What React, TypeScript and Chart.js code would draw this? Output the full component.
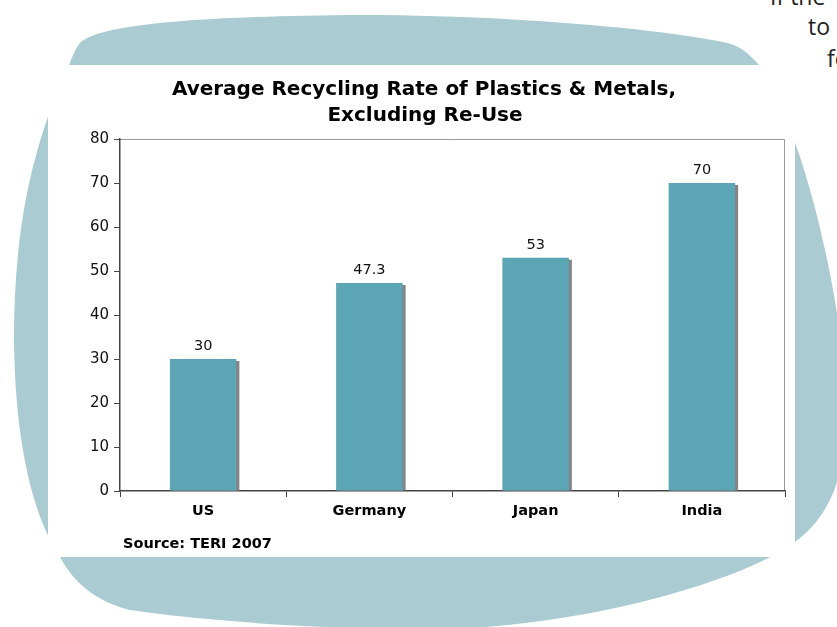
import React, { useEffect, useRef } from "react";
import { Chart, registerables } from "chart.js";

Chart.register(...registerables);

const categories: string[] = ["US", "Germany", "Japan", "India"];
const recyclingRate: number[] = [30, 47.3, 53, 70];
const valueLabels: string[] = ["30", "47.3", "53", "70"];
const titleLines: string[] = ["Average Recycling Rate of Plastics & Metals,", "Excluding Re-Use"];
const sourceText = "Source: TERI 2007";
const slideTextFragments: string[] = ["If the", "to", "fo"];

const FONT = "'DejaVu Sans', Verdana, sans-serif";
const BAR_COLOR = "#5ca5b4";
const BLOB_COLOR = "#aacbd2";

const decorPlugin = {
  id: "decor",
  beforeDraw(chart: any) {
    const { ctx, chartArea } = chart;
    ctx.save();
    ctx.strokeStyle = "#9a9a9a";
    ctx.lineWidth = 1;
    ctx.beginPath();
    ctx.moveTo(chartArea.left, chartArea.top + 0.5);
    ctx.lineTo(chartArea.right - 0.5, chartArea.top + 0.5);
    ctx.lineTo(chartArea.right - 0.5, chartArea.bottom);
    ctx.stroke();
    ctx.restore();
  },
  beforeDatasetsDraw(chart: any) {
    const { ctx } = chart;
    ctx.save();
    ctx.shadowColor = "rgba(110,110,110,0.85)";
    ctx.shadowOffsetX = 3;
    ctx.shadowOffsetY = 2;
    ctx.shadowBlur = 0;
  },
  afterDatasetsDraw(chart: any) {
    const { ctx } = chart;
    ctx.restore();
    const meta = chart.getDatasetMeta(0);
    ctx.save();
    ctx.fillStyle = "#111";
    ctx.font = `14.5px ${FONT}`;
    ctx.textAlign = "center";
    ctx.textBaseline = "alphabetic";
    meta.data.forEach((bar: any, i: number) => {
      ctx.fillText(valueLabels[i], bar.x, bar.y - 9);
    });
    ctx.restore();
  },
  afterDraw(chart: any) {
    const { ctx } = chart;
    ctx.save();
    ctx.fillStyle = "#000";
    ctx.textAlign = "center";
    ctx.textBaseline = "alphabetic";
    ctx.font = `bold 20px ${FONT}`;
    ctx.fillText(titleLines[0], 424, 95);
    ctx.fillText(titleLines[1], 425, 121);
    ctx.textAlign = "left";
    ctx.font = `bold 14.5px ${FONT}`;
    ctx.fillText(sourceText, 123, 548);
    ctx.restore();
  },
};

export default function App() {
  const canvasRef = useRef<HTMLCanvasElement | null>(null);

  useEffect(() => {
    if (!canvasRef.current) return;
    const chart = new Chart(canvasRef.current, {
      type: "bar",
      data: {
        labels: categories,
        datasets: [
          {
            data: recyclingRate,
            backgroundColor: BAR_COLOR,
            borderWidth: 0,
            barPercentage: 0.4,
            categoryPercentage: 1,
          },
        ],
      },
      options: {
        responsive: false,
        animation: false,
        devicePixelRatio: 1,
        layout: { padding: { left: 60, right: 52, top: 139, bottom: 96 } },
        plugins: {
          legend: { display: false },
          title: { display: false },
          tooltip: { enabled: false },
        },
        scales: {
          x: {
            afterFit: (s: any) => {
              s.height = 40;
            },
            grid: {
              offset: true,
              drawOnChartArea: false,
              drawTicks: true,
              tickLength: 6,
              color: "#444",
            },
            border: { display: true, color: "#444", width: 1.5 },
            ticks: {
              color: "#000",
              font: { family: FONT, size: 14.5, weight: "bold" },
              padding: 6,
            },
          },
          y: {
            min: 0,
            max: 80,
            afterFit: (s: any) => {
              s.width = 60;
            },
            grid: {
              drawOnChartArea: false,
              drawTicks: true,
              tickLength: 6,
              color: "#444",
            },
            border: { display: true, color: "#444", width: 1.5 },
            ticks: {
              stepSize: 10,
              color: "#111",
              font: { family: FONT, size: 15 },
              padding: 5,
            },
          },
        },
      },
      plugins: [decorPlugin],
    });
    return () => chart.destroy();
  }, []);

  return (
    <div
      style={{
        position: "absolute",
        left: 0,
        top: 0,
        width: 837,
        height: 627,
        overflow: "hidden",
        background: "#fff",
      }}
    >
      <svg width={837} height={627} style={{ position: "absolute", left: 0, top: 0 }}>
        <path
          d="M 69 65 C 74 52, 78 44, 82 41 C 110 22, 220 16, 363 15 C 500 15, 660 28, 728 43 C 742 47, 750 55, 759 65
             C 790 110, 830 230, 846 380 C 850 470, 835 520, 780 552 C 720 585, 600 620, 470 628
             C 330 632, 200 620, 130 610 C 98 602, 75 585, 60 557 C 32 515, 15 440, 14 340
             C 14 250, 25 160, 69 65 Z"
          fill={BLOB_COLOR}
        />
      </svg>
      <div
        style={{
          position: "absolute",
          left: 48,
          top: 65,
          width: 747,
          height: 492,
          background: "#fff",
        }}
      />
      {slideTextFragments.map((t, i) => (
        <div
          key={t}
          style={{
            position: "absolute",
            left: [770, 808, 827][i],
            top: [-15, 15, 47][i],
            font: "23px 'Open Sans', sans-serif",
            lineHeight: "23px",
            color: "#222",
            whiteSpace: "nowrap",
          }}
        >
          {t}
        </div>
      ))}
      <canvas
        ref={canvasRef}
        width={837}
        height={627}
        style={{ position: "absolute", left: 0, top: 0, width: 837, height: 627 }}
      />
    </div>
  );
}
